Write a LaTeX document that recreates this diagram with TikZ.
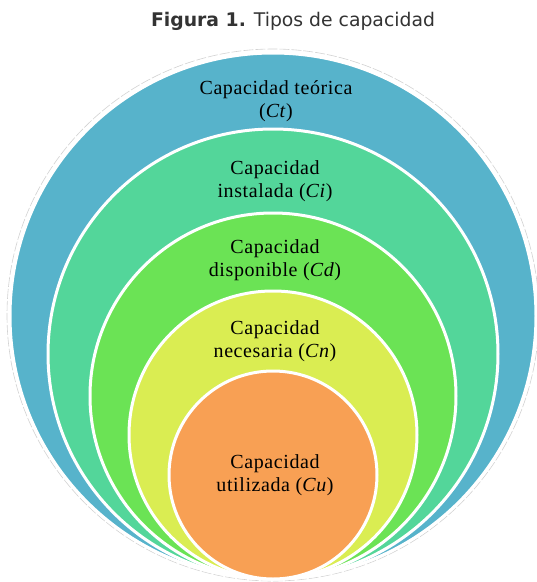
\documentclass[tikz,border=0pt]{standalone}
\usepackage{fontspec}
\setmainfont{Liberation Serif}
\newfontfamily\lblfont[LetterSpace=3]{Liberation Serif}
\newfontfamily\titlefont{DejaVu Sans}
\definecolor{cblue}{RGB}{87,179,203}
\definecolor{cteal}{RGB}{83,214,154}
\definecolor{cgreen}{RGB}{107,227,85}
\definecolor{cyellow}{RGB}{218,237,82}
\definecolor{corange}{RGB}{248,160,84}
\definecolor{ctitle}{RGB}{51,51,51}
\tikzset{
  ring/.style={draw=white, line width=3pt},
  lbl/.style={align=center, text=black, inner sep=0pt, font=\lblfont\fontsize{20}{23}\selectfont}
}
\begin{document}
\begin{tikzpicture}[x=1pt,y=-1pt]
\useasboundingbox (0,0) rectangle (537,582);
\node[text=ctitle, font=\titlefont\fontsize{18.8}{22}\selectfont, inner sep=0pt] (title) at (293,21) {\textbf{Figura 1.} Tipos de capacidad};
\draw[gray!35, line width=0.6pt, dash pattern=on 10pt off 2pt] (273,315) circle[radius=266];
\fill[cblue, ring] (273,316) circle[radius=263];
\fill[cteal, ring] (273,354) circle[radius=225];
\fill[cgreen, ring] (273,396) circle[radius=183];
\fill[cyellow, ring] (273,435) circle[radius=144];
\fill[corange, ring] (273,475) circle[radius=104];
\node[lbl] (ct) at (276,101) {Capacidad teórica\\(\textit{Ct})};
\node[lbl] (ci) at (275,181) {Capacidad\\instalada (\textit{Ci})};
\node[lbl] (cd) at (275,260) {Capacidad\\disponible (\textit{Cd})};
\node[lbl] (cn) at (275,341) {Capacidad\\necesaria (\textit{Cn})};
\node[lbl] (cu) at (275,475) {Capacidad\\utilizada (\textit{Cu})};
\end{tikzpicture}
\end{document}
